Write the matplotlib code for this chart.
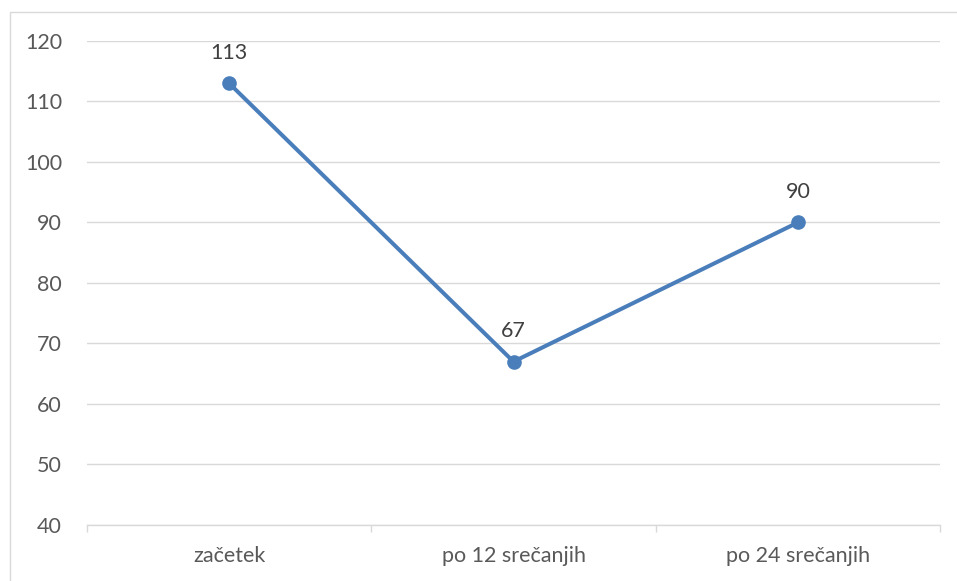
import matplotlib
matplotlib.use("Agg")
import matplotlib.pyplot as plt
from matplotlib.patches import Rectangle

categories = ["začetek", "po 12 srečanjih", "po 24 srečanjih"]
values = [113, 67, 90]
yticks = [40, 50, 60, 70, 80, 90, 100, 110, 120]

plt.rcParams['font.family'] = ['Lato', 'DejaVu Sans']
W, H = 957, 581
fig = plt.figure(figsize=(W/100, H/100), dpi=100)
fig.patches.append(Rectangle((9.5/W, -0.1), 1.2, 1.1 - 11.5/H, transform=fig.transFigure,
                             fill=False, edgecolor='#d9d9d9', linewidth=1.0))
ax = fig.add_axes([87/W, 1 - 525/H, (940-87)/W, (525-41)/H])

FS = 15.5
x = list(range(len(categories)))
ax.plot(x, values, color='#4a7ebb', linewidth=2.9, marker='o', markersize=9.5,
        solid_capstyle='round', zorder=3)
for xi, v in zip(x, values):
    ax.annotate(str(v), (xi, v), xytext=(0, 15), textcoords='offset points',
                ha='center', va='bottom', fontsize=FS, color='#404040')

ax.set_xlim(-0.5, 2.5)
ax.set_ylim(40, 120)
ax.set_yticks(yticks)
ax.set_yticklabels([str(t) for t in yticks], fontsize=FS, color='#595959')
ax.yaxis.grid(True, color='#d9d9d9', linewidth=1.0)
ax.set_axisbelow(True)
ax.set_xticks(x)
ax.set_xticklabels(categories, fontsize=FS, color='#595959')
ax.set_xticks([-0.5, 0.5, 1.5, 2.5], minor=True)
ax.tick_params(axis='x', which='major', length=0, pad=15)
ax.tick_params(axis='x', which='minor', length=5, color='#d9d9d9', width=1.0)
ax.tick_params(axis='y', length=0, pad=18)
for s in ['top', 'right', 'left']:
    ax.spines[s].set_visible(False)
ax.spines['bottom'].set_color('#d9d9d9')
ax.spines['bottom'].set_linewidth(1.0)

fig.savefig("out.png", dpi=100)
